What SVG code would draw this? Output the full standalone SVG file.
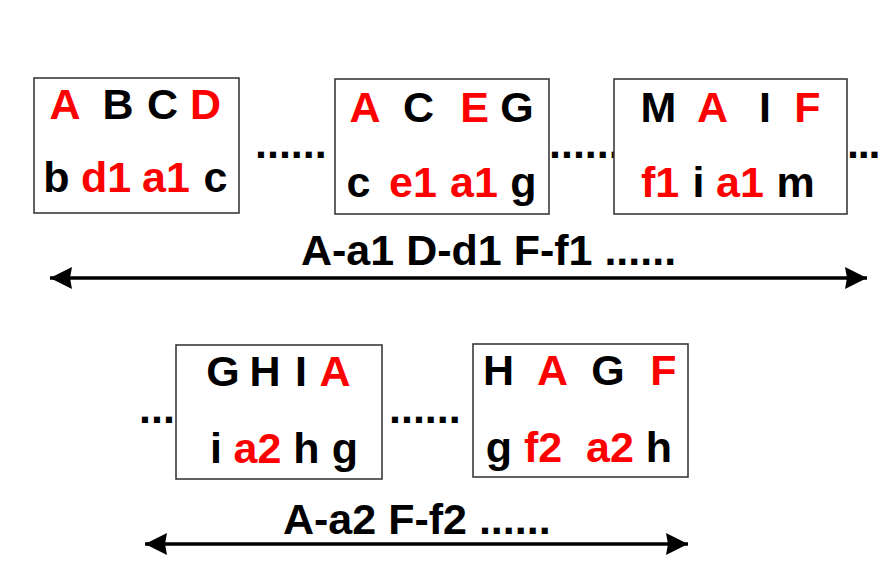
<svg xmlns="http://www.w3.org/2000/svg" width="881" height="585" viewBox="0 0 881 585">
<defs>
<style>
.box{fill:#fff;stroke:#3a3a3a;stroke-width:1.6}
text{font-family:"Liberation Sans",Arial,sans-serif;font-weight:bold;font-size:43px}
.k{fill:#000}
.r{fill:#ff0000}
.m{text-anchor:middle}
.ln{stroke:#000;stroke-width:3.6;fill:none}
</style>
<marker id="ah" viewBox="0 0 22 22" refX="22" refY="11" markerWidth="22" markerHeight="22" markerUnits="userSpaceOnUse" orient="auto-start-reverse">
<path d="M0,0 L22,11 L0,22 L2,11 Z" fill="#000"/>
</marker>
</defs>
<rect width="881" height="585" fill="#fff"/>

<g id="dots">
<text class="k" x="255" y="158">......</text>
<text class="k" x="549" y="158">......</text>
<text class="k" x="847" y="158" letter-spacing="-1.2">...</text>
<text class="k" x="139" y="423">...</text>
<text class="k" x="389" y="423">......</text>
</g>

<g id="node1">
<rect class="box" x="34" y="78" width="205" height="135"/>
<text class="r m" x="65" y="119">A</text>
<text class="k m" x="118" y="119">B</text>
<text class="k m" x="162.5" y="119">C</text>
<text class="r m" x="205.5" y="119">D</text>
<text class="k m" x="56.5" y="192">b</text>
<text class="r m" x="106" y="192">d1</text>
<text class="r m" x="166" y="192">a1</text>
<text class="k m" x="215.5" y="192">c</text>
</g>

<g id="node2">
<rect class="box" x="335" y="79" width="214" height="135"/>
<text class="r m" x="365" y="122">A</text>
<text class="k m" x="418.5" y="122">C</text>
<text class="r m" x="474.5" y="122">E</text>
<text class="k m" x="517" y="122">G</text>
<text class="k m" x="358.5" y="197">c</text>
<text class="r m" x="413" y="197">e1</text>
<text class="r m" x="474" y="197">a1</text>
<text class="k m" x="523.5" y="197">g</text>
</g>

<g id="node3">
<rect class="box" x="614" y="79" width="233" height="135"/>
<text class="k m" x="658.5" y="122">M</text>
<text class="r m" x="712.5" y="122">A</text>
<text class="k m" x="765" y="122">I</text>
<text class="r m" x="807.5" y="122">F</text>
<text class="r m" x="660" y="197">f1</text>
<text class="k m" x="698.5" y="197">i</text>
<text class="r m" x="740" y="197">a1</text>
<text class="k m" x="795.5" y="197">m</text>
</g>

<g id="node4">
<rect class="box" x="176" y="345" width="206" height="134"/>
<text class="k m" x="223" y="386">G</text>
<text class="k m" x="265" y="386">H</text>
<text class="k m" x="301" y="386">I</text>
<text class="r m" x="335" y="386">A</text>
<text class="k m" x="216" y="463">i</text>
<text class="r m" x="257.5" y="463">a2</text>
<text class="k m" x="306.5" y="463">h</text>
<text class="k m" x="345" y="463">g</text>
</g>

<g id="node5">
<rect class="box" x="473" y="344" width="215" height="133"/>
<text class="k m" x="498.5" y="385">H</text>
<text class="r m" x="552.5" y="385">A</text>
<text class="k m" x="608" y="385">G</text>
<text class="r m" x="663.5" y="385">F</text>
<text class="k m" x="499" y="462">g</text>
<text class="r m" x="543" y="462">f2</text>
<text class="r m" x="610" y="462">a2</text>
<text class="k m" x="659" y="462">h</text>
</g>

<g id="connectors">
<line class="ln" x1="50" y1="278" x2="867" y2="278" marker-start="url(#ah)" marker-end="url(#ah)"/>
<text class="k" x="301" y="265">A-a1 D-d1 F-f1 ......</text>
<line class="ln" x1="145" y1="544" x2="688" y2="544" marker-start="url(#ah)" marker-end="url(#ah)"/>
<text class="k" x="283" y="534">A-a2 F-f2 ......</text>
</g>
</svg>
